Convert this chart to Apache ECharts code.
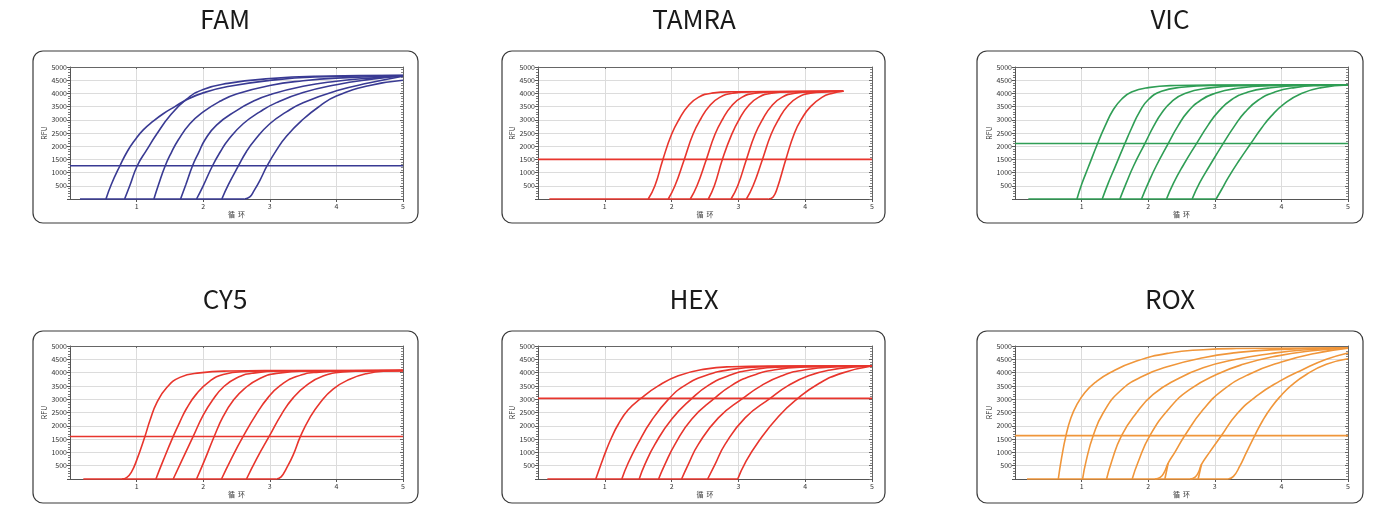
<!DOCTYPE html>
<html>
<head>
<meta charset="utf-8">
<script src="https://cdn.jsdelivr.net/npm/echarts@6/dist/echarts.min.js"></script>
<style>
html,body{margin:0;padding:0;background:#fff;}
#c{width:1391px;height:516px;}
</style>
</head>
<body>
<div id="c"></div>
<script>
// ---------------- DATA ----------------
const PANEL_NAMES = ['FAM', 'TAMRA', 'VIC', 'CY5', 'HEX', 'ROX'];
const X_AXIS_NAME = '循  环';
const Y_AXIS_NAME = 'RFU';
const X_RANGE = [0, 5];
const Y_RANGE = [0, 5000];

const BASELINE_START = [0.15, 0.17, 0.2, 0.2, 0.14, 0.18];
const THRESHOLDS = [1260, 1500, 2100, 1600, 3030, 1630];

const FAM_CURVES = [
  [[0.54,0],[0.62,550],[0.75,1260],[0.86,1800],[0.975,2235],[1.1,2620],[1.25,2950],[1.4,3230],[1.575,3500],[1.75,3760],[2.0,4020],[2.37,4260],[3.0,4490],[3.68,4620],[5.0,4680]],
  [[0.82,0],[0.9,520],[1.01,1260],[1.15,1850],[1.3,2450],[1.5,3150],[1.75,3780],[2.0,4150],[2.37,4380],[3.0,4560],[3.68,4650],[5.0,4690]],
  [[1.26,0],[1.33,550],[1.43,1260],[1.52,1750],[1.625,2235],[1.8,2850],[2.0,3300],[2.25,3700],[2.5,3980],[3.0,4300],[3.5,4480],[4.0,4580],[5.0,4660]],
  [[1.66,0],[1.74,550],[1.84,1260],[1.93,1750],[2.025,2235],[2.2,2800],[2.5,3350],[2.75,3700],[3.0,3950],[3.5,4270],[4.0,4460],[4.5,4580],[5.0,4660]],
  [[1.9,0],[2.0,500],[2.14,1260],[2.26,1800],[2.375,2235],[2.6,2850],[2.85,3300],[3.1,3650],[3.5,4030],[4.0,4330],[4.5,4530],[5.0,4670]],
  [[2.28,0],[2.38,550],[2.53,1260],[2.65,1800],[2.775,2235],[3.0,2850],[3.25,3300],[3.5,3650],[4.0,4100],[4.5,4400],[5.0,4650]],
  [[2.62,0],[2.7,80],[2.76,300],[2.85,700],[2.96,1260],[3.1,1850],[3.25,2380],[3.5,3020],[3.75,3520],[4.0,3900],[4.5,4300],[5.0,4500]]
];

const TAMRA_CURVES = [
  [[1.65,0],[1.75,500],[1.87,1500],[2.0,2450],[2.12,3050],[2.25,3530],[2.4,3850],[2.6,4010],[2.9,4060],[4.57,4080]],
  [[1.95,0],[2.05,500],[2.19,1500],[2.32,2450],[2.44,3050],[2.57,3530],[2.72,3850],[2.92,4010],[3.2,4060],[4.57,4080]],
  [[2.28,0],[2.38,500],[2.52,1500],[2.65,2450],[2.77,3050],[2.9,3530],[3.05,3850],[3.25,4010],[3.55,4060],[4.57,4080]],
  [[2.55,0],[2.64,500],[2.76,1500],[2.9,2450],[3.02,3050],[3.15,3530],[3.3,3850],[3.5,4010],[3.8,4060],[4.57,4080]],
  [[2.89,0],[2.99,500],[3.12,1500],[3.25,2450],[3.37,3050],[3.5,3530],[3.65,3850],[3.85,4010],[4.15,4060],[4.57,4080]],
  [[3.12,0],[3.22,500],[3.36,1500],[3.49,2450],[3.61,3050],[3.74,3530],[3.89,3850],[4.08,4010],[4.35,4060],[4.57,4080]],
  [[3.45,0],[3.52,80],[3.58,400],[3.71,1500],[3.84,2500],[3.95,3050],[4.08,3500],[4.25,3850],[4.4,4000],[4.57,4080]]
];

const VIC_CURVES = [
  [[0.93,0],[1.0,550],[1.1,1200],[1.24,2100],[1.35,2750],[1.475,3380],[1.6,3780],[1.75,4050],[2.0,4220],[2.4,4300],[3.0,4320],[5.0,4325]],
  [[1.31,0],[1.4,600],[1.5,1200],[1.65,2100],[1.75,2680],[1.87,3300],[2.0,3760],[2.2,4080],[2.5,4230],[3.0,4300],[5.0,4325]],
  [[1.575,0],[1.67,600],[1.78,1250],[1.95,2100],[2.08,2750],[2.2,3250],[2.35,3680],[2.55,4000],[2.9,4200],[3.4,4290],[5.0,4325]],
  [[1.9,0],[2.0,600],[2.12,1250],[2.3,2100],[2.45,2780],[2.6,3320],[2.8,3760],[3.0,4000],[3.3,4180],[3.8,4290],[5.0,4325]],
  [[2.275,0],[2.38,600],[2.52,1250],[2.725,2100],[2.9,2800],[3.05,3300],[3.25,3760],[3.5,4050],[3.8,4200],[4.3,4300],[5.0,4325]],
  [[2.66,0],[2.77,600],[2.92,1250],[3.125,2100],[3.3,2780],[3.45,3280],[3.65,3740],[3.9,4050],[4.2,4220],[4.6,4300],[5.0,4325]],
  [[3.02,0],[3.1,350],[3.2,800],[3.35,1400],[3.54,2100],[3.7,2680],[3.85,3150],[4.05,3620],[4.3,4000],[4.6,4220],[5.0,4320]]
];

const CY5_CURVES = [
  [[0.78,0],[0.85,50],[0.92,250],[1.0,700],[1.125,1600],[1.2,2200],[1.3,2850],[1.45,3430],[1.65,3820],[1.95,3990],[2.4,4060],[3.0,4075],[5.0,4080]],
  [[1.29,0],[1.4,700],[1.55,1600],[1.65,2150],[1.75,2650],[1.9,3200],[2.1,3680],[2.3,3930],[2.65,4040],[3.2,4070],[5.0,4080]],
  [[1.55,0],[1.68,700],[1.85,1600],[2.0,2400],[2.15,3000],[2.3,3450],[2.5,3800],[2.75,3980],[3.2,4060],[5.0,4080]],
  [[1.9,0],[2.02,700],[2.165,1600],[2.3,2350],[2.45,2950],[2.62,3400],[2.85,3780],[3.1,3970],[3.6,4060],[5.0,4080]],
  [[2.275,0],[2.42,750],[2.6,1600],[2.8,2450],[2.97,3050],[3.15,3500],[3.4,3850],[3.7,4010],[4.2,4070],[5.0,4080]],
  [[2.65,0],[2.8,750],[2.99,1600],[3.18,2450],[3.35,3050],[3.55,3520],[3.8,3870],[4.1,4020],[4.6,4070],[5.0,4080]],
  [[3.1,0],[3.17,80],[3.25,400],[3.35,900],[3.46,1600],[3.6,2300],[3.75,2850],[3.95,3380],[4.2,3750],[4.45,3960],[4.75,4060],[5.0,4080]]
];

const HEX_CURVES = [
  [[0.865,0],[0.95,600],[1.015,1040],[1.1,1550],[1.2,2050],[1.35,2600],[1.54,3030],[1.8,3500],[2.1,3880],[2.5,4130],[2.9,4220],[3.5,4245],[5.0,4250]],
  [[1.255,0],[1.35,600],[1.5,1350],[1.7,2200],[1.965,3030],[2.2,3520],[2.5,3880],[2.9,4120],[3.4,4220],[4.0,4245],[5.0,4250]],
  [[1.515,0],[1.6,550],[1.75,1300],[2.0,2250],[2.305,3030],[2.55,3520],[2.85,3880],[3.2,4110],[3.7,4215],[5.0,4250]],
  [[1.805,0],[1.9,550],[2.05,1300],[2.3,2250],[2.64,3030],[2.9,3520],[3.2,3880],[3.55,4110],[4.0,4210],[5.0,4250]],
  [[2.15,0],[2.25,550],[2.4,1300],[2.7,2300],[3.065,3030],[3.35,3520],[3.65,3880],[4.0,4110],[4.5,4220],[5.0,4250]],
  [[2.54,0],[2.65,550],[2.8,1300],[3.1,2300],[3.475,3030],[3.75,3520],[4.05,3880],[4.4,4110],[4.75,4210],[5.0,4250]],
  [[2.99,0],[3.1,600],[3.3,1400],[3.6,2350],[3.89,3030],[4.2,3580],[4.55,3980],[5.0,4245]]
];

const ROX_CURVES = [
  [[0.65,0],[0.7,800],[0.765,1633],[0.84,2300],[0.925,2780],[1.05,3250],[1.2,3620],[1.425,3995],[1.825,4435],[2.325,4740],[2.825,4860],[3.325,4905],[5.0,4930]],
  [[1.015,0],[1.07,700],[1.175,1633],[1.325,2490],[1.575,3300],[1.925,3870],[2.325,4250],[2.825,4560],[3.325,4750],[3.825,4855],[5.0,4925]],
  [[1.375,0],[1.45,650],[1.6,1633],[1.825,2490],[2.075,3180],[2.425,3740],[2.825,4180],[3.325,4500],[3.825,4710],[4.325,4850],[5.0,4925]],
  [[1.76,0],[1.85,650],[2.025,1633],[2.325,2680],[2.625,3370],[3.025,3930],[3.425,4310],[3.925,4620],[4.425,4810],[5.0,4925]],
  [[2.1,0],[2.18,60],[2.24,250],[2.3,600],[2.4,1000],[2.55,1633],[2.825,2610],[3.125,3350],[3.525,3950],[4.0,4400],[4.5,4720],[5.0,4920]],
  [[2.25,0],[2.3,600]],
  [[2.63,0],[2.7,60],[2.76,280],[2.8,550],[2.92,1000],[3.1,1633],[3.325,2425],[3.625,3115],[3.975,3680],[4.325,4120],[4.675,4500],[5.0,4740]],
  [[2.75,0],[2.8,550]],
  [[3.2,0],[3.28,100],[3.375,480],[3.475,1000],[3.6,1633],[3.72,2200],[3.85,2700],[4.0,3150],[4.15,3520],[4.375,3930],[4.675,4310],[5.0,4520]]
];

const PANEL_CURVES = [FAM_CURVES, TAMRA_CURVES, VIC_CURVES, CY5_CURVES, HEX_CURVES, ROX_CURVES];

// ---------------- STYLE / LAYOUT ----------------
const COLORS = ['#393a93', '#e8352d', '#2f9e55', '#e8352d', '#e8352d', '#f0963a'];
const COL_BOX = [[33, 385], [502, 383], [977, 386]];
const COL_GRID = [[70, 333], [538, 334], [1015, 333]];
const COL_TITLE_X = [225, 694, 1170];
const ROW_BOX = [[51, 172], [331, 172]];
const ROW_GRID = [[67, 132], [346, 133]];
const ROW_TITLE_Y = [19, 299];

const FONT = '"Noto Sans CJK SC","Noto Sans",sans-serif';

const grids = [], xAxes = [], yAxes = [], series = [], graphics = [];

PANEL_NAMES.forEach((name, i) => {
  const col = i % 3, row = Math.floor(i / 3);
  const color = COLORS[i];
  grids.push({left: COL_GRID[col][0], width: COL_GRID[col][1], top: ROW_GRID[row][0], height: ROW_GRID[row][1], containLabel: false});

  const axisLineStyle = {color: '#555', width: 1};
  xAxes.push({
    type: 'value', gridIndex: i, min: X_RANGE[0], max: X_RANGE[1], interval: 1,
    axisLine: {show: true, onZero: false, lineStyle: axisLineStyle},
    axisTick: {show: true, length: 3, lineStyle: {color: '#555'}},
    axisLabel: {showMinLabel: false, fontSize: 7, color: '#333', margin: 4, fontFamily: FONT},
    splitLine: {show: true, lineStyle: {color: '#dcdcdc', width: 1}},
    name: X_AXIS_NAME, nameLocation: 'middle', nameGap: 12,
    nameTextStyle: {fontSize: 7, color: '#333', fontFamily: FONT}
  });
  xAxes.push({
    type: 'value', gridIndex: i, position: 'top', min: X_RANGE[0], max: X_RANGE[1], interval: 1,
    axisLine: {show: true, onZero: false, lineStyle: {color: '#666', width: 1}},
    axisTick: {show: true, inside: true, length: 2, lineStyle: {color: '#666'}},
    axisLabel: {show: false}, splitLine: {show: false}
  });
  yAxes.push({
    type: 'value', gridIndex: i, min: Y_RANGE[0], max: Y_RANGE[1], interval: 500,
    axisLine: {show: true, onZero: false, lineStyle: axisLineStyle},
    axisTick: {show: true, length: 3, lineStyle: {color: '#555'}},
    minorTick: {show: true, splitNumber: 5, length: 2, lineStyle: {color: '#777'}},
    axisLabel: {showMinLabel: false, fontSize: 7, color: '#333', margin: 3, fontFamily: FONT,
                formatter: v => String(v)},
    splitLine: {show: true, lineStyle: {color: '#dcdcdc', width: 1}},
    name: Y_AXIS_NAME, nameLocation: 'middle', nameRotate: 90, nameGap: 19,
    nameTextStyle: {fontSize: 7, color: '#333', fontFamily: FONT}
  });
  yAxes.push({
    type: 'value', gridIndex: i, position: 'right', min: Y_RANGE[0], max: Y_RANGE[1], interval: 500,
    axisLine: {show: true, onZero: false, lineStyle: {color: '#666', width: 1}},
    axisTick: {show: true, inside: true, length: 3, lineStyle: {color: '#666'}},
    minorTick: {show: true, splitNumber: 5, length: 2, lineStyle: {color: '#888'}},
    axisLabel: {show: false}, splitLine: {show: false}
  });

  const xi = 2 * i, yi = 2 * i;
  const curves = PANEL_CURVES[i];
  const lastStart = Math.max(...curves.map(c => c[0][0]));
  series.push({
    type: 'line', xAxisIndex: xi, yAxisIndex: yi, data: [[BASELINE_START[i], 0], [lastStart, 0]],
    showSymbol: false, symbol: 'none', silent: true, clip: false,
    lineStyle: {color: color, width: 1.6}
  });
  series.push({
    type: 'line', xAxisIndex: xi, yAxisIndex: yi, data: [[X_RANGE[0], THRESHOLDS[i]], [X_RANGE[1], THRESHOLDS[i]]],
    showSymbol: false, symbol: 'none', silent: true,
    lineStyle: {color: color, width: 1.6}
  });
  curves.forEach(c => {
    series.push({
      type: 'line', xAxisIndex: xi, yAxisIndex: yi, data: c,
      smooth: 0.5, showSymbol: false, symbol: 'none', silent: true, clip: false,
      lineStyle: {color: color, width: 1.6}
    });
  });

  graphics.push({
    type: 'rect', z: 0, silent: true,
    shape: {x: COL_BOX[col][0], y: ROW_BOX[row][0], width: COL_BOX[col][1], height: ROW_BOX[row][1], r: 10},
    style: {fill: 'none', stroke: '#3a3a3a', lineWidth: 1.2}
  });
  graphics.push({
    type: 'text', z: 10, silent: true, x: COL_TITLE_X[col], y: ROW_TITLE_Y[row],
    style: {text: name, fill: '#1a1a1a', font: '26px ' + FONT, align: 'center', verticalAlign: 'middle'}
  });
});

const chart = echarts.init(document.getElementById('c'), null, {renderer: 'canvas'});
chart.setOption({
  animation: false,
  backgroundColor: '#fff',
  grid: grids, xAxis: xAxes, yAxis: yAxes, series: series, graphic: graphics
});
</script>
</body>
</html>
